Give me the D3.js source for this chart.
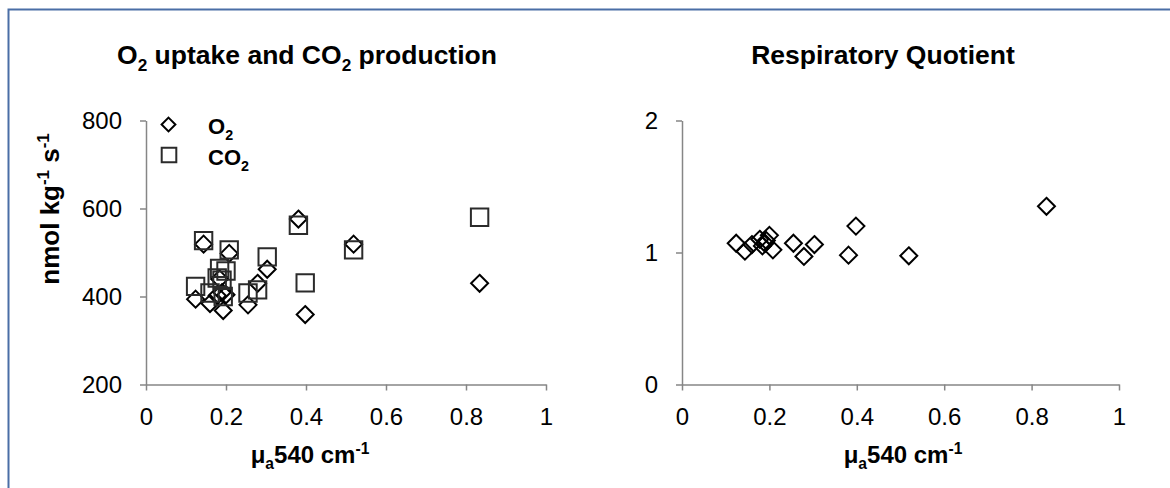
<!DOCTYPE html>
<html lang="en">
<head>
    <meta charset="UTF-8">
    <title>O2 / CO2 and RQ</title>
    <style>
        html,body{
            margin: 0;
            padding: 0;
            background: #fff;
        }
        svg text{
            font-family: "Liberation Sans", Arial, sans-serif;
            fill: #000;
        }
        .axis path, .axis line{
            stroke: #868686;
            stroke-width: 1.5;
        }
        .axis text{
            font-size: 24px;
        }
    </style>
</head>
<body>
<div id="container"></div>

<script src="https://d3js.org/d3.v7.min.js"></script>
<script>

    // absorption coefficient mu_a at 540 nm (cm-1)
    const mua = [0.124, 0.144, 0.160, 0.178, 0.184, 0.190, 0.193, 0.200, 0.208, 0.255, 0.279, 0.303, 0.381, 0.398, 0.519, 0.834]
    // O2 uptake (nmol kg-1 s-1)
    const o2 = [394, 519, 384, 402, 440, 409, 368, 404, 498, 381, 430, 462, 576, 359, 519, 430]
    // CO2 production (nmol kg-1 s-1)
    const co2 = [423, 527, 408, 442, 464, 437, 400, 458, 506, 408, 415, 490, 562, 431, 506, 580]
    // respiratory quotient
    const rq = [1.07, 1.01, 1.06, 1.10, 1.05, 1.07, 1.09, 1.13, 1.02, 1.07, 0.97, 1.06, 0.98, 1.20, 0.975, 1.35]

    const xTicks = [0, 0.2, 0.4, 0.6, 0.8, 1]
    const yTicksLeft = [200, 400, 600, 800]
    const yTicksRight = [0, 1, 2]

    const [width, height] = [1170, 488]

    const svg = d3.select('#container').append('svg')
        .attr('width', width)
        .attr('height', height)

    // frame
    svg.append('path')
        .attr('d', 'M8.5,' + height + 'V9.5H' + width)
        .attr('fill', 'none')
        .attr('stroke', '#4a6ea6')
        .attr('stroke-width', 2)

    const x1 = d3.scaleLinear().domain([0, 1]).range([146, 546])
    const y1 = d3.scaleLinear().domain([200, 800]).range([384.5, 120.5])
    const x2 = d3.scaleLinear().domain([0, 1]).range([682, 1119])
    const y2 = d3.scaleLinear().domain([0, 2]).range([384.5, 120.5])

    const fmt = d => d3.format('')(+d.toFixed(1))

    function drawAxes(x, y, yTicks) {
        svg.append('g').attr('class', 'axis')
            .attr('transform', 'translate(0,' + y.range()[0] + ')')
            .call(d3.axisBottom(x).tickValues(xTicks).tickFormat(fmt)
                .tickSize(6).tickSizeOuter(0).tickPadding(17))
        svg.append('g').attr('class', 'axis')
            .attr('transform', 'translate(' + x.range()[0] + ',0)')
            .call(d3.axisLeft(y).tickValues(yTicks).tickFormat(fmt)
                .tickSize(6).tickSizeOuter(0).tickPadding(18))
        svg.selectAll('.axis text').attr('fill', '#000')
    }
    drawAxes(x1, y1, yTicksLeft)
    drawAxes(x2, y2, yTicksRight)

    function diamond(cx, cy, r) {
        return 'M' + cx + ',' + (cy - r) + 'L' + (cx + r) + ',' + cy + 'L' + cx + ',' + (cy + r) + 'L' + (cx - r) + ',' + cy + 'Z'
    }
    function square(cx, cy, r) {
        return 'M' + (cx - r) + ',' + (cy - r) + 'h' + 2 * r + 'v' + 2 * r + 'h' + (-2 * r) + 'Z'
    }

    // left: O2 + CO2
    svg.append('g').selectAll('path')
        .data(mua)
        .join('path')
        .attr('d', (d, i) => diamond(x1(d), y1(o2[i]), 8.5))
        .attr('fill', 'none').attr('stroke', '#000').attr('stroke-width', 2)
    svg.append('g').selectAll('path')
        .data(mua)
        .join('path')
        .attr('d', (d, i) => square(x1(d), y1(co2[i]), 8.7))
        .attr('fill', 'none').attr('stroke', '#2b2b2b').attr('stroke-width', 2)

    // right: RQ
    svg.append('g').selectAll('path')
        .data(mua)
        .join('path')
        .attr('d', (d, i) => diamond(x2(d), y2(rq[i]), 8.5))
        .attr('fill', 'none').attr('stroke', '#000').attr('stroke-width', 2)

    // legend
    svg.append('path').attr('d', diamond(168.5, 124.5, 6.9))
        .attr('fill', 'none').attr('stroke', '#000').attr('stroke-width', 2)
    svg.append('path').attr('d', square(169, 155, 7.3))
        .attr('fill', 'none').attr('stroke', '#2b2b2b').attr('stroke-width', 2)

    function chemText(xp, yp, parts, size, anchor) {
        // parts: [text, shift] shift: 0 normal, 1 sub, -1 sup
        const t = svg.append('text')
            .attr('x', xp).attr('y', yp)
            .attr('font-weight', 'bold')
            .attr('font-size', size)
            .attr('text-anchor', anchor || 'start')
        let prev = 0
        parts.forEach(p => {
            const shift = p[1]
            const small = size * 0.65
            const off = shift === 1 ? size * 0.25 : shift === -1 ? -size * 0.38 : 0
            t.append('tspan')
                .attr('dy', off - prev)
                .attr('font-size', shift ? small : size)
                .text(p[0])
            prev = off
        })
        return t
    }

    chemText(208, 134, [['O', 0], ['2', 1]], 22)
    chemText(208, 165, [['CO', 0], ['2', 1]], 22)

    // titles
    chemText(307, 64, [['O', 0], ['2', 1], [' uptake and CO', 0], ['2', 1], [' production', 0]], 26.5, 'middle')
    chemText(883, 64, [['Respiratory Quotient', 0]], 26.5, 'middle')

    // axis titles
    chemText(310, 463, [['μ', 0], ['a', 1], ['540 cm', 0], ['-1', -1]], 24, 'middle')
    chemText(903, 463, [['μ', 0], ['a', 1], ['540 cm', 0], ['-1', -1]], 24, 'middle')
    chemText(0, 0, [['nmol kg', 0], ['-1', -1], [' s', 0], ['-1', -1]], 26, 'middle')
        .attr('transform', 'translate(59,209) rotate(-90)')

</script>
</body>
</html>
